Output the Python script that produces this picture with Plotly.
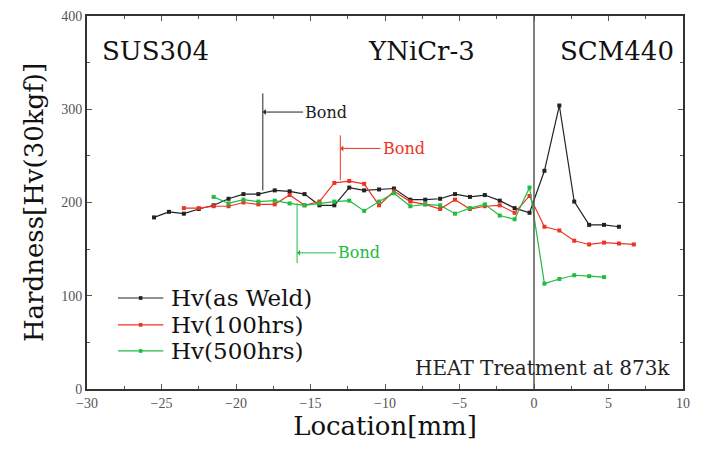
import plotly.graph_objects as go

# Data
x_weld = [-25.5, -24.5, -23.5, -22.5, -21.5, -20.5, -19.5, -18.5, -17.4, -16.4, -15.4, -14.4,
          -13.4, -12.4, -11.4, -10.4, -9.4, -8.3, -7.3, -6.3, -5.3, -4.3, -3.3, -2.3, -1.3,
          -0.3, 0.7, 1.7, 2.7, 3.7, 4.7, 5.7]
hv_weld = [184, 190, 188, 193, 197, 204, 209, 209, 213, 212, 209, 197,
           197, 216, 213, 214, 215, 203, 203, 204, 209, 206, 208, 202, 194,
           189, 234, 304, 201, 176, 176, 174]

x_100 = [-23.5, -22.5, -21.5, -20.5, -19.5, -18.5, -17.4, -16.4, -15.4, -14.4, -13.4, -12.4,
         -11.4, -10.4, -9.4, -8.3, -7.3, -6.3, -5.3, -4.3, -3.3, -2.3, -1.3, -0.3, 0.7,
         1.7, 2.7, 3.7, 4.7, 5.7, 6.7]
hv_100 = [194, 194, 196, 196, 200, 198, 198, 208, 197, 201, 221, 223,
          220, 197, 212, 201, 198, 193, 203, 193, 196, 197, 189, 207, 174,
          170, 159, 155, 157, 156, 155]

x_500 = [-21.5, -20.5, -19.5, -18.5, -17.4, -16.4, -15.4, -14.4, -13.4, -12.4, -11.4, -10.4,
         -9.4, -8.3, -7.3, -6.3, -5.3, -4.3, -3.3, -2.3, -1.3, -0.3, 0.7, 1.7, 2.7, 3.7, 4.7]
hv_500 = [206, 199, 203, 201, 202, 199, 197, 199, 201, 202, 191, 201,
          210, 196, 198, 197, 188, 194, 198, 186, 182, 216, 113, 118, 122, 121, 120]

series_names = ["Hv(as Weld)", "Hv(100hrs)", "Hv(500hrs)"]
series_colors = ["#222222", "#ee3322", "#22bb44"]

# Bond markers: x of bond line, line top/bottom, label level, label start x
bond_x = [-18.2, -13.0, -15.9]
bond_y0 = [213, 224, 199]
bond_y1 = [317, 272, 135]
bond_level = [297, 258, 146]
bond_text_x = [-15.5, -10.3, -13.3]

region_labels = ["SUS304", "YNiCr-3", "SCM440"]
region_x = [-29.1, -11.3, 1.6]

FONT = "DejaVu Serif"
TICKFONT = "Liberation Serif"

fig = go.Figure()
for xs, ys, name, col in zip([x_weld, x_100, x_500], [hv_weld, hv_100, hv_500],
                             series_names, series_colors):
    fig.add_trace(go.Scatter(x=xs, y=ys, mode="lines+markers", name=name,
                             line=dict(color=col, width=1.2),
                             marker=dict(color=col, size=4, symbol="square"),
                             showlegend=False))

# vertical line at x=0 (interface)
fig.add_shape(type="line", x0=0, x1=0, y0=0, y1=400, xref="x", yref="y",
              line=dict(color="#555555", width=1.5))

for bx, y0, y1, lv, tx, col in zip(bond_x, bond_y0, bond_y1, bond_level, bond_text_x, series_colors):
    fig.add_shape(type="line", x0=bx, x1=bx, y0=y0, y1=y1, xref="x", yref="y",
                  line=dict(color=col, width=1))
    fig.add_annotation(x=bx, y=lv, ax=tx, ay=lv, axref="x", ayref="y", xref="x", yref="y",
                       text="Bond", showarrow=True, arrowhead=1, arrowsize=1, arrowwidth=1,
                       arrowcolor=col, xanchor="left", font=dict(family=FONT, size=16, color=col))

for lab, lx in zip(region_labels, region_x):
    fig.add_annotation(x=lx, y=363, xref="x", yref="y", text=lab, showarrow=False,
                       xanchor="left", font=dict(family=FONT, size=26, color="#111111"))

fig.add_annotation(x=0.982, y=0.056, xref="paper", yref="paper", text="HEAT Treatment at 873k",
                   showarrow=False, xanchor="right", yanchor="middle",
                   font=dict(family=FONT, size=20, color="#222222"))

# manual legend (paper coordinates)
leg_x0, leg_x1, leg_tx = 0.052, 0.128, 0.14
leg_rows = [0.244, 0.172, 0.102]
for name, col, ly in zip(series_names, series_colors, leg_rows):
    fig.add_shape(type="line", xref="paper", yref="paper", x0=leg_x0, x1=leg_x1, y0=ly, y1=ly,
                  line=dict(color=col, width=1.2))
    xm = (leg_x0 + leg_x1) / 2
    fig.add_shape(type="rect", xref="paper", yref="paper", x0=xm - 0.003, x1=xm + 0.003,
                  y0=ly - 0.005, y1=ly + 0.005, fillcolor=col, line=dict(width=0))
    fig.add_annotation(x=leg_tx, y=ly, xref="paper", yref="paper", text=name, showarrow=False,
                       xanchor="left", yanchor="middle", borderpad=0,
                       font=dict(family=FONT, size=23, color="#111111"))

axis_common = dict(showline=True, linecolor="#333333", linewidth=2, mirror="ticks",
                   ticks="inside", ticklen=5, tickcolor="#555555", showgrid=False, zeroline=False,
                   automargin=False,
                   tickfont=dict(family=TICKFONT, size=14, color="#555555"))

fig.update_xaxes(range=[-30, 10], tickvals=[-30, -25, -20, -15, -10, -5, 0, 5, 10],
                 minor=dict(ticks="inside", ticklen=3, dtick=2.5, tickcolor="#555555"),
                 title=dict(text="Location[mm]", font=dict(family=FONT, size=26, color="#111111"),
                            standoff=6),
                 **axis_common)
fig.update_yaxes(range=[0, 400], tickvals=[0, 100, 200, 300, 400],
                 minor=dict(ticks="inside", ticklen=3, dtick=50, tickcolor="#555555"),
                 title=dict(text="Hardness[Hv(30kgf)]", font=dict(family=FONT, size=26, color="#111111"),
                            standoff=10),
                 **axis_common)

fig.update_layout(width=709, height=451, margin=dict(l=87, r=26, t=16, b=62, autoexpand=False),
                  paper_bgcolor="white", plot_bgcolor="white", showlegend=False)

fig.write_html("out.html", config={"displayModeBar": False},
               post_script="document.body.style.margin='0';")
